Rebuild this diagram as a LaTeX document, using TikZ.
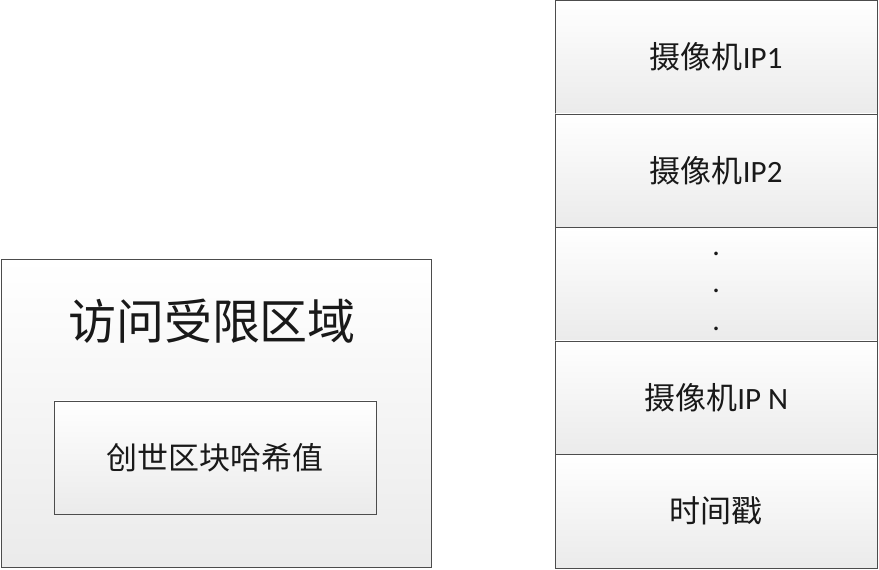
\documentclass[tikz,border=0pt]{standalone}
\usepackage{fontspec}
\newfontfamily\cjk{Noto Sans CJK SC}
\newfontfamily\lat{Carlito}
\begin{document}
\begin{tikzpicture}[x=1pt,y=-1pt,
  box/.style={draw=black!70, line width=0.9pt, top color=white, bottom color=black!8, inner sep=0pt},
  row/.style={box, minimum width=321.5pt, minimum height=113.5pt, anchor=north west, font=\fontsize{31}{31}\selectfont\cjk, text=black!90},
]
\useasboundingbox (0,0) rectangle (879,570);
% left area
\node[box, minimum width=430pt, minimum height=308pt, anchor=north west] (area) at (1,259) {};
\node[font=\fontsize{48}{48}\selectfont\cjk, text=black!90] (title) at (212,321) {访问受限区域};
\node[box, minimum width=322pt, minimum height=113pt, anchor=north west, font=\fontsize{31}{31}\selectfont\cjk, text=black!90] (hash) at (53.5,400.5) {创世区块哈希值};
% right column
\node[row] (ip1) at (555,0) {摄像机{\lat IP1}};
\node[row] (ip2) at (555,113.5) {摄像机{\lat IP2}};
\node[row, label={[align=center, font=\fontsize{30}{37.5}\selectfont\lat, text=black!90, yshift=-7pt]center:.\\.\\.}] (dots) at (555,227) {};
\node[row] (ipn) at (555,340.5) {摄像机{\lat IP N}};
\node[row] (ts) at (555,454) {时间戳};
\end{tikzpicture}
\end{document}
